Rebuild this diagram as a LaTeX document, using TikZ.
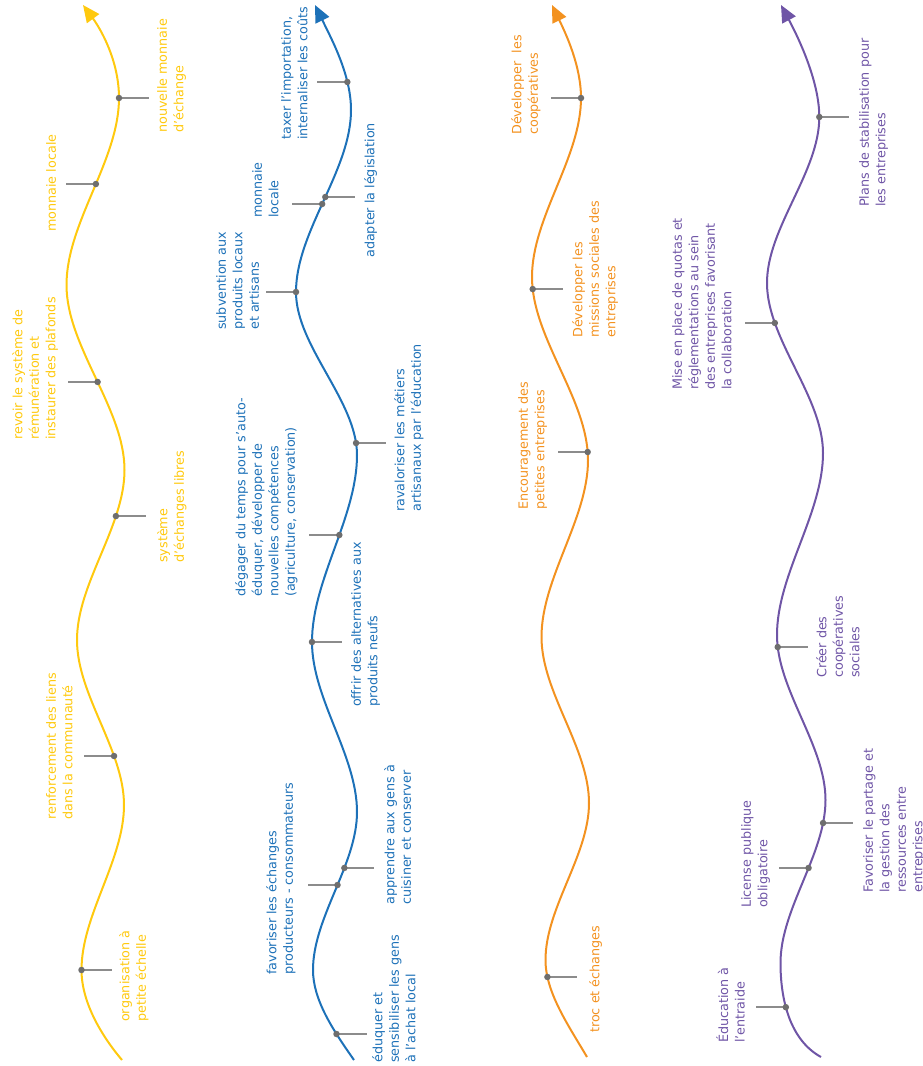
\documentclass[tikz,border=0pt]{standalone}
\usepackage{fontspec}
\setmainfont{DejaVu Sans}
\usetikzlibrary{arrows.meta}
\definecolor{cY}{HTML}{FFC90E}
\definecolor{cB}{HTML}{1D71B8}
\definecolor{cO}{HTML}{F39220}
\definecolor{cP}{HTML}{6F55A6}
\definecolor{cL}{HTML}{8C8C8C}
\definecolor{cD}{HTML}{6E6E6E}
\tikzset{
  wave/.style={line width=2pt, -{Triangle[length=17pt,width=15pt]}},
  lead/.style={draw=cL, line width=1.5pt},
  dotc/.style={circle, fill=cD, inner sep=0pt, minimum size=6.5pt},
  lbl/.style={rotate=90, anchor=north west, inner sep=0pt, align=left,
              font=\fontsize{12.75}{16.5}\selectfont},
}
\newcommand\leadR[1]{\path (#1) ++(30,0) coordinate (#1e); \draw[lead] (#1) -- (#1e);}
\newcommand\leadL[1]{\path (#1) ++(-30,0) coordinate (#1e); \draw[lead] (#1) -- (#1e);}
\newcommand\dotat[1]{\node[dotc] (#1d) at (#1) {};}
\begin{document}
\begin{tikzpicture}[x=1pt,y=-1pt]
\useasboundingbox (0,0) rectangle (923,1066);

% ---------------- yellow ----------------
\coordinate (yS) at (122,1060);  \coordinate (yT1) at (81.5,970); \coordinate (yP1) at (124,805);
\coordinate (yT2) at (77,640);   \coordinate (yP2) at (124.5,470); \coordinate (yT3) at (66.5,285);
\coordinate (yP3) at (119,98);   \coordinate (yA) at (83,5);
\draw[wave, cY] (yS) .. controls (105,1040) and (81.5,1005) .. (yT1)
  .. controls (81.5,915) and (124,860) .. (yP1)
  .. controls (124,750) and (77,695) .. (yT2) coordinate[pos=0.297] (y5)
  .. controls (77,583.33) and (124.5,526.67) .. (yP2) coordinate[pos=0.729] (y4)
  .. controls (124.5,408.33) and (66.5,346.67) .. (yT3) coordinate[pos=0.476] (y3)
  .. controls (66.5,222.67) and (119,160.33) .. (yP3) coordinate[pos=0.54] (y2)
  .. controls (119,60) and (100,28) .. (yA);
\coordinate (y1) at (yP3); \coordinate (y6) at (yT1);
\leadR{y1} \leadL{y2} \leadL{y3} \leadR{y4} \leadL{y5} \leadR{y6}
\foreach \n in {y1,y2,y3,y4,y5,y6} {\dotat{\n}}
\node[lbl, text=cY] (ty1) at (157,133) {nouvelle monnaie\\d'échange};
\node[lbl, text=cY] (ty2) at (46,232) {monnaie locale};
\node[lbl, text=cY] (ty3) at (12,440) {revoir le système de\\rémunération et\\instaurer des plafonds};
\node[lbl, text=cY] (ty4) at (157,563) {système\\d'échanges libres};
\node[lbl, text=cY] (ty5) at (46,820) {renforcement des liens\\dans la communauté};
\node[lbl, text=cY] (ty6) at (119,1022) {organisation à\\petite échelle};

% ---------------- blue ----------------
\coordinate (bS) at (354,1060);  \coordinate (bT1) at (313,970); \coordinate (bP1) at (357,812);
\coordinate (bT2) at (312,642);  \coordinate (bP2) at (357,455); \coordinate (bT3) at (296,292);
\coordinate (bP3) at (351,110);  \coordinate (bA) at (315,5);
\draw[wave, cB] (bS) .. controls (333,1030) and (313,1000) .. (bT1) coordinate[pos=0.289] (b10)
  .. controls (313,917.33) and (357,864.67) .. (bP1) coordinate[pos=0.538] (b8) coordinate[pos=0.646] (b9)
  .. controls (357,755.33) and (312,698.67) .. (bT2)
  .. controls (312,579.67) and (357,517.33) .. (bP2) coordinate[pos=0.572] (b6)
  .. controls (357,400.67) and (296,346.33) .. (bT3) coordinate[pos=0.0736] (b5)
  .. controls (296,231.33) and (351,170.67) .. (bP3) coordinate[pos=0.4835] (b2) coordinate[pos=0.522] (b3)
  .. controls (351,75) and (332,40) .. (bA) coordinate[pos=0.267] (b1);
\coordinate (b7) at (bT2); \coordinate (b4) at (bT3);
\leadL{b1} \leadL{b2} \leadR{b3} \leadL{b4} \leadR{b5} \leadL{b6} \leadR{b7} \leadL{b8} \leadR{b9} \leadR{b10}
\foreach \n in {b1,b2,b3,b4,b5,b6,b7,b8,b9,b10} {\dotat{\n}}
\node[lbl, text=cB] (tb1) at (281,140) {taxer l'importation,\\internaliser les coûts};
\node[lbl, text=cB] (tb2) at (252,218) {monnaie\\locale};
\node[lbl, text=cB] (tb3) at (364,258) {adapter la législation};
\node[lbl, text=cB] (tb4) at (216,330) {subvention aux\\produits locaux\\et artisans};
\node[lbl, text=cB] (tb5) at (394,512) {ravaloriser les métiers\\artisanaux par l'éducation};
\node[lbl, text=cB] (tb6) at (235,597) {dégager du temps pour s'auto-\\éduquer, développer de\\nouvelles compétences\\(agriculture, conservation)};
\node[lbl, text=cB] (tb7) at (351,707) {offrir des alternatives aux\\produits neufs};
\node[lbl, text=cB] (tb8) at (266,975) {favoriser les échanges\\producteurs - consommateurs};
\node[lbl, text=cB] (tb9) at (384,905) {apprendre aux gens à\\cuisiner et conserver};
\node[lbl, text=cB] (tb10) at (372,1063) {éduquer et\\sensibiliser les gens\\à l'achat local};

% ---------------- orange ----------------
\coordinate (oS) at (587,1057);  \coordinate (oT1) at (545.5,960); \coordinate (oP1) at (589,803);
\coordinate (oT2) at (541.5,637); \coordinate (oP2) at (588,460); \coordinate (oT3) at (532,277);
\coordinate (oP3) at (581,98);   \coordinate (oA) at (552,5);
\draw[wave, cO] (oS) .. controls (568,1024.67) and (545.5,992.33) .. (oT1) coordinate[pos=0.825] (o4)
  .. controls (545.5,907.67) and (589,855.33) .. (oP1)
  .. controls (589,747.67) and (541.5,692.33) .. (oT2)
  .. controls (541.5,578) and (588,519) .. (oP2)
  .. controls (588,399) and (532,338) .. (oT3) coordinate[pos=0.0437] (o3) coordinate[pos=0.934] (o2)
  .. controls (532,217.33) and (581,157.67) .. (oP3)
  .. controls (581,66) and (566,34) .. (oA);
\coordinate (o1) at (oP3);
\leadL{o1} \leadR{o2} \leadL{o3} \leadR{o4}
\foreach \n in {o1,o2,o3,o4} {\dotat{\n}}
\node[lbl, text=cO] (to1) at (511,135) {Développer\ \ les\\coopératives};
\node[lbl, text=cO] (to2) at (572,338) {Développer les\\missions sociales des\\entreprises};
\node[lbl, text=cO] (to3) at (518,510) {Encouragement des\\petites entreprises};
\node[lbl, text=cO] (to4) at (589,1033) {troc et échanges};

% ---------------- purple ----------------
\coordinate (pS) at (821,1057);  \coordinate (pT1) at (780.5,963); \coordinate (pP1) at (825.5,800);
\coordinate (pT2) at (777,635);  \coordinate (pP2) at (823,453); \coordinate (pT3) at (767,283);
\coordinate (pP3) at (819.3,117); \coordinate (pA) at (781,5);
\draw[wave, cP] (pS) .. controls (790,1040) and (780.5,1000) .. (pT1) coordinate[pos=0.6] (p6)
  .. controls (780.5,908.67) and (825.5,854.33) .. (pP1) coordinate[pos=0.583] (p5) coordinate[pos=0.859] (p4)
  .. controls (825.5,745) and (777,690) .. (pT2) coordinate[pos=0.927] (p3)
  .. controls (777,574.33) and (823,513.67) .. (pP2)
  .. controls (823,396.33) and (767,339.67) .. (pT3) coordinate[pos=0.765] (p2)
  .. controls (767,227.67) and (819.3,172.33) .. (pP3)
  .. controls (819.3,80) and (797,35) .. (pA);
\coordinate (p1) at (pP3);
\leadR{p1} \leadL{p2} \leadR{p3} \leadR{p4} \leadL{p5} \leadL{p6}
\foreach \n in {p1,p2,p3,p4,p5,p6} {\dotat{\n}}
\node[lbl, text=cP] (tp1) at (859,207) {Plans de stabilisation pour\\les entreprises};
\node[lbl, text=cP] (tp2) at (672,390) {Mise en place de quotas et\\réglementations au sein\\des entreprises favorisant\\la collaboration};
\node[lbl, text=cP] (tp3) at (816,678) {Créer des\\coopératives\\sociales};
\node[lbl, text=cP] (tp4) at (863,893) {Favoriser le partage et\\la gestion des\\ressources entre\\entreprises};
\node[lbl, text=cP] (tp5) at (741,908) {License publique\\obligatoire};
\node[lbl, text=cP] (tp6) at (716,1043) {Éducation à\\l'entraide};
\end{tikzpicture}
\end{document}
